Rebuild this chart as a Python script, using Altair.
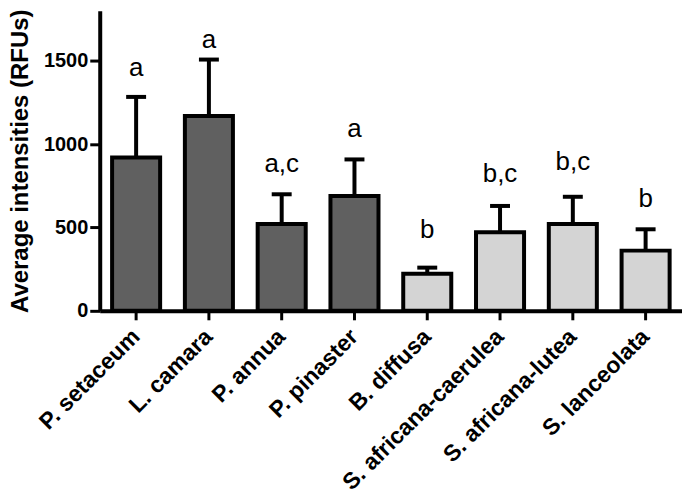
import altair as alt
import pandas as pd

categories = ["P. setaceum", "L. camara", "P. annua", "P. pinaster",
              "B. diffusa", "S. africana-caerulea", "S. africana-lutea", "S. lanceolata"]
means = [920, 1168, 521, 689, 222, 471, 521, 361]
upper = [1283, 1507, 699, 908, 259, 629, 684, 489]
letters = ["a", "a", "a,c", "a", "b", "b,c", "b,c", "b"]
letter_y = [1411, 1579, 831, 1041, 437, 771, 843, 622]
groups = ["dark", "dark", "dark", "dark", "light", "light", "light", "light"]

df = pd.DataFrame({
    "cat": categories, "mean": means, "upper": upper,
    "letter": letters, "ly": letter_y, "grp": groups,
})

FONT = "Liberation Sans"

x = alt.X("cat:N", sort=categories, title=None,
          scale=alt.Scale(paddingInner=0.34, paddingOuter=0.17),
          axis=alt.Axis(labelAngle=-45, labelFontSize=23, labelFont=FONT,
                        labelFontWeight="bold", labelColor="black",
                        labelAlign="right", labelBaseline="middle",
                        domainColor="black", domainWidth=4, tickColor="black",
                        tickWidth=3, tickSize=9, labelPadding=13, labelLimit=400))
y_scale = alt.Scale(domain=[0, 1800], nice=False)

base = alt.Chart(df)

stem = base.mark_rule(color="black", strokeWidth=4).encode(
    x=x,
    y=alt.Y("mean:Q", scale=y_scale),
    y2="upper:Q",
)
cap = base.mark_tick(color="black", thickness=4, size=20, opacity=1).encode(
    x=x,
    y=alt.Y("upper:Q", scale=y_scale),
)
bars = base.mark_bar(stroke="black", strokeWidth=4).encode(
    x=x,
    y=alt.Y("mean:Q", scale=y_scale, title="Average intensities (RFUs)",
            axis=alt.Axis(values=[0, 500, 1000, 1500], format="d", grid=False,
                          labelFontSize=20, labelFont=FONT, labelFontWeight="bold",
                          labelColor="black", titleFont=FONT, titleFontSize=24,
                          titleFontWeight="bold", titleColor="black",
                          domainColor="black", domainWidth=4, tickColor="black",
                          tickWidth=3, tickSize=10, labelPadding=2, titlePadding=11)),
    color=alt.Color("grp:N", scale=alt.Scale(domain=["dark", "light"],
                                             range=["#606060", "#d4d4d4"]),
                    legend=None),
)
text = base.mark_text(font=FONT, fontSize=26, color="black",
                      baseline="alphabetic", align="center").encode(
    x=x,
    y=alt.Y("ly:Q", scale=y_scale),
    text="letter:N",
)

chart = alt.layer(stem, cap, bars, text).properties(
    width=584, height=301,
    autosize=alt.AutoSizeParams(type="none"),
    padding={"left": 92, "top": 2, "right": 0, "bottom": 181},
).configure_view(stroke=None)

chart.save("out.html", embed_options={"renderer": "svg", "actions": False})
